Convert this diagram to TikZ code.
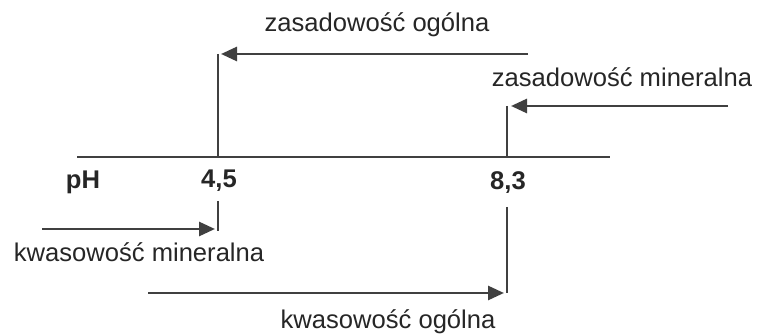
\documentclass[tikz,border=0pt]{standalone}
\usepackage{fontspec}
\setmainfont{Liberation Sans}
\usetikzlibrary{arrows.meta}
\begin{document}
\begin{tikzpicture}[
                x = 0.5pt,
                y = -0.5pt,
                > = {Triangle[length=8pt,width=7pt]},
                line width = 1.4pt,
                font = \fontsize{12.8}{15}\selectfont
                ]

                \tikzstyle{txt}=[
                        inner sep = 0pt,
                        text = black!85
                ]
                \tikzstyle{val}=[
                        txt,
                        font = \fontsize{12.8}{15}\selectfont\bfseries
                ]
                \tikzstyle{line}=[
                        draw = black!75
                ]

                \useasboundingbox (0,0) rectangle (771,335);

                % os pH
                \coordinate (os0) at (77,157);
                \coordinate (os1) at (610,157);
                \coordinate (g45) at (218,54);
                \coordinate (g83) at (507,106);
                \coordinate (m45) at (218,157);
                \coordinate (m83) at (507,157);
                \coordinate (d45a) at (218,201);
                \coordinate (d45b) at (218,231);
                \coordinate (d83a) at (507,207);
                \coordinate (d83b) at (507,293);
                \coordinate (zo0) at (528,54);
                \coordinate (zo1) at (221,54);
                \coordinate (zm0) at (728,106);
                \coordinate (zm1) at (511,106);
                \coordinate (km0) at (42,229);
                \coordinate (km1) at (215,229);
                \coordinate (ko0) at (148,293);
                \coordinate (ko1) at (504,293);

                \node[val] (ph) at (83,182) {pH};
                \node[val] (v45) at (219,181) {4,5};
                \node[val] (v83) at (508,183) {8,3};
                \node[txt] (zasog) at (377,25) {zasadowość ogólna};
                \node[txt] (zasmin) at (622,77) {zasadowość mineralna};
                \node[txt] (kwmin) at (139,252) {kwasowość mineralna};
                \node[txt] (kwog) at (388,322) {kwasowość ogólna};

                \draw[line] (os0) -- (os1);
                \draw[line] (g45) -- (m45);
                \draw[line] (g83) -- (m83);
                \draw[line] (d45a) -- (d45b);
                \draw[line] (d83a) -- (d83b);
                \draw[line, ->] (zo0) -- (zo1);
                \draw[line, ->] (zm0) -- (zm1);
                \draw[line, ->] (km0) -- (km1);
                \draw[line, ->] (ko0) -- (ko1);
\end{tikzpicture}
\end{document}
